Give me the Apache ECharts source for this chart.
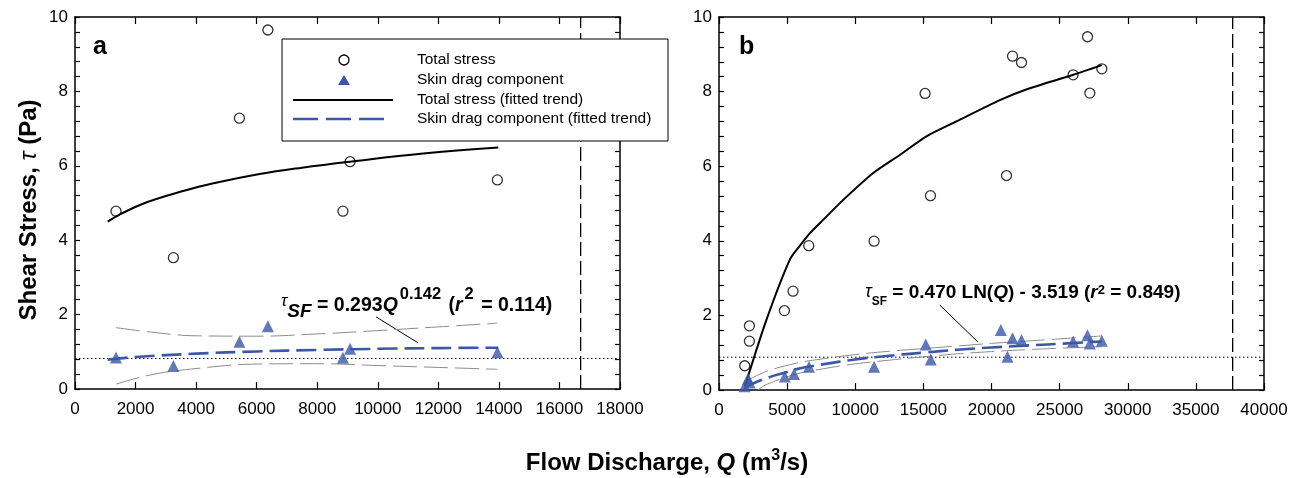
<!DOCTYPE html>
<html>
<head>
<meta charset="utf-8">
<script src="https://cdn.jsdelivr.net/npm/echarts@6/dist/echarts.min.js"></script>
<style>
  html, body { margin: 0; padding: 0; background: #fff; }
  #chart { width: 1305px; height: 478px; }
</style>
</head>
<body>
<div id="chart"></div>
<script>
// ---- Panel a : discharge (m3/s) and shear stress (Pa) ----
const qA      = [1354, 3250, 5430, 6370, 8850, 9085, 13950];
const totalA  = [4.78, 3.53, 7.28, 9.65, 4.78, 6.11, 5.62];
const skinA   = [0.85, 0.62, 1.27, 1.69, 0.84, 1.08, 0.99];

const totalFitQA = [1080, 1500, 2370, 3600, 4500, 6100, 7500, 9080, 11500, 13980];
const totalFitA  = [4.50, 4.70, 5.02, 5.33, 5.52, 5.78, 5.95, 6.11, 6.33, 6.49];
const skinFitQA  = [1080, 2000, 4000, 6000, 8000, 10000, 12000, 13980];
const skinFitA   = [0.79, 0.86, 0.95, 1.01, 1.05, 1.08, 1.10, 1.11];
const bandQA     = [1354, 2500, 4000, 6000, 8000, 10000, 12000, 13950];
const bandUpA    = [1.65, 1.53, 1.43, 1.42, 1.48, 1.57, 1.67, 1.77];
const bandLoA    = [0.13, 0.38, 0.55, 0.67, 0.68, 0.63, 0.58, 0.53];
const thresholdA = 0.82;     // dotted reference level
const limitQA    = 16700;    // dashed discharge limit

// ---- Panel b ----
const qTotalB   = [1887, 2232, 2232, 4802, 5433, 6586, 11380, 15125, 15521, 21101, 21542, 22203, 25991, 27048, 27217, 28098];
const totalB    = [0.65, 1.72, 1.31, 2.13, 2.65, 3.87, 3.99, 7.95, 5.21, 5.75, 8.95, 8.78, 8.45, 9.47, 7.96, 8.61];
const qSkinB    = [1880, 2130, 2250, 4824, 5507, 6608, 11380, 15176, 15543, 20683, 21175, 21542, 22203, 25991, 27048, 27217, 28098];
const skinB     = [0.10, 0.30, 0.20, 0.36, 0.43, 0.62, 0.62, 1.22, 0.82, 1.61, 0.89, 1.39, 1.34, 1.30, 1.47, 1.25, 1.32];

const totalFitQB = [1900, 3480, 5190, 5900, 6660, 7640, 9100, 11300, 13270, 15230, 17430, 20610, 22500, 26000, 28100];
const totalFitB  = [0.10, 1.88, 3.49, 3.85, 4.20, 4.56, 5.09, 5.81, 6.30, 6.80, 7.20, 7.77, 8.05, 8.45, 8.71];
const skinFitQB  = [1850, 2250, 3500, 5000, 5700, 7500, 10000, 12500, 15000, 17500, 20000, 22500, 25000, 28100];
const skinFitB   = [0.03, 0.13, 0.32, 0.48, 0.56, 0.68, 0.82, 0.92, 1.00, 1.08, 1.14, 1.19, 1.24, 1.30];
const bandQB     = [2000, 3500, 5700, 7500, 10000, 12500, 15000, 17500, 20000, 22500, 25000, 28100];
const bandUpB    = [0.24, 0.50, 0.72, 0.83, 0.95, 1.04, 1.11, 1.18, 1.25, 1.31, 1.37, 1.45];
const bandLoQB   = [2860, 3500, 5700, 7500, 10000, 12500, 15000, 17500, 20000, 22500, 25000, 28100];
const bandLoB    = [0.00, 0.15, 0.43, 0.56, 0.70, 0.80, 0.89, 0.97, 1.03, 1.08, 1.12, 1.16];
const thresholdB = 0.88;
const limitQB    = 37700;

// Leader lines from the equations to the fitted skin-drag curves (data units)
const leaderA = [[9940, 1.94], [11330, 1.24]];
const leaderB = [[16200, 2.28], [18990, 1.29]];

const xTicksA = { max: 18000, interval: 2000 };
const xTicksB = { max: 40000, interval: 5000 };

const legendLabels = ['Total stress', 'Skin drag component', 'Total stress (fitted trend)', 'Skin drag component (fitted trend)'];

const FONT = 'Liberation Sans, Arial, sans-serif';
const BLUE = '#3b57a7';
const GREY = '#8c8c8c';

const zip = (xs, ys) => xs.map((x, i) => [x, ys[i]]);

function xAxisPair(grid, ticks) {
  const base = {
    type: 'value', gridIndex: grid, min: 0, max: ticks.max, interval: ticks.interval,
    axisLine: { show: true, onZero: false, lineStyle: { color: '#000', width: 1.5 } },
    axisTick: { show: true, inside: true, length: 7, lineStyle: { color: '#000', width: 1.2 } },
    splitLine: { show: false }
  };
  return [
    Object.assign({}, base, {
      position: 'bottom',
      axisLabel: { show: true, color: '#000', fontSize: 17, fontFamily: FONT, margin: 12,
                   formatter: v => String(v) }
    }),
    Object.assign({}, base, { position: 'top', axisLabel: { show: false } })
  ];
}

function yAxisPair(grid) {
  const base = {
    type: 'value', gridIndex: grid, min: 0, max: 10, interval: 2,
    axisLine: { show: true, onZero: false, lineStyle: { color: '#000', width: 1.5 } },
    axisTick: { show: true, inside: true, length: 5, lineStyle: { color: '#000', width: 1.2 } },
    minorTick: { show: true, splitNumber: 5, length: 5, lineStyle: { color: '#000', width: 1.2 } },
    splitLine: { show: false },
    minorSplitLine: { show: false }
  };
  return [
    Object.assign({}, base, {
      position: 'left',
      axisLabel: { show: true, color: '#000', fontSize: 17, fontFamily: FONT, margin: 7,
                   formatter: v => String(v) }
    }),
    Object.assign({}, base, { position: 'right', axisLabel: { show: false } })
  ];
}

function panelSeries(p) {
  const ax = { xAxisIndex: p.x, yAxisIndex: p.y };
  const plain = (data, style) => Object.assign({
    type: 'line', data, symbol: 'none', silent: true, z: 2,
    lineStyle: style
  }, ax);
  return [
    plain([[0, p.threshold], [p.xmax, p.threshold]], { color: '#000', width: 1, type: [1.5, 2.5] }),
    plain([[p.limit, 0], [p.limit, 10]], { color: '#000', width: 1.3, type: [14, 5] }),
    plain(p.leader, { color: '#000', width: 1 }),
    Object.assign(plain(p.bandUp, { color: GREY, width: 1, type: [24, 7] }), { smooth: 0.4 }),
    Object.assign(plain(p.bandLo, { color: GREY, width: 1, type: [24, 7] }), { smooth: 0.4 }),
    Object.assign(plain(p.totalFit, { color: '#000', width: 2 }), {
      name: legendLabels[2], smooth: p.smoothTotal, z: 3
    }),
    Object.assign(plain(p.skinFit, { color: BLUE, width: 2.6, type: [20, 7] }), {
      name: legendLabels[3], smooth: 0.4, z: 3
    }),
    Object.assign({
      type: 'scatter', name: legendLabels[0], data: p.total, symbol: 'circle', symbolSize: 10, z: 4,
      itemStyle: { color: 'rgba(255,255,255,0)', borderColor: '#000', borderWidth: 1.3 }
    }, ax),
    Object.assign({
      type: 'scatter', name: legendLabels[1], data: p.skin, symbol: 'triangle', symbolSize: 12, z: 5,
      itemStyle: { color: BLUE, borderWidth: 0 }
    }, ax)
  ];
}

const series = [].concat(
  panelSeries({
    x: 0, y: 0, xmax: xTicksA.max, threshold: thresholdA, limit: limitQA, leader: leaderA,
    bandUp: zip(bandQA, bandUpA), bandLo: zip(bandQA, bandLoA),
    totalFit: zip(totalFitQA, totalFitA), skinFit: zip(skinFitQA, skinFitA), smoothTotal: 0.4,
    total: zip(qA, totalA), skin: zip(qA, skinA)
  }),
  panelSeries({
    x: 2, y: 2, xmax: xTicksB.max, threshold: thresholdB, limit: limitQB, leader: leaderB,
    bandUp: zip(bandQB, bandUpB), bandLo: zip(bandLoQB, bandLoB),
    totalFit: zip(totalFitQB, totalFitB), skinFit: zip(skinFitQB, skinFitB), smoothTotal: 0.25,
    total: zip(qTotalB, totalB), skin: zip(qSkinB, skinB)
  })
);

const bold = (size, extra) => Object.assign({
  fontSize: size, fontWeight: 'bold', fontFamily: FONT, fill: '#000', verticalAlign: 'middle'
}, extra || {});

// Legend box: symbol column on the left, labels on the right; drawn over the plot
const legendRows = [60, 80, 100, 119];
const LZ = 50;
const SYM_X = 344;
const legendItems = [
  { type: 'rect', z: LZ, shape: { x: 282, y: 39, width: 386, height: 102 },
    style: { fill: '#fff', stroke: '#000', lineWidth: 1 } },
  { type: 'circle', z: LZ + 1, shape: { cx: SYM_X, cy: legendRows[0], r: 5 },
    style: { fill: 'rgba(255,255,255,0)', stroke: '#000', lineWidth: 1.3 } },
  { type: 'polygon', z: LZ + 1,
    shape: { points: [[SYM_X, legendRows[1] - 5], [SYM_X + 6, legendRows[1] + 5], [SYM_X - 6, legendRows[1] + 5]] },
    style: { fill: BLUE } },
  { type: 'line', z: LZ + 1, shape: { x1: 293, y1: legendRows[2], x2: 393, y2: legendRows[2] },
    style: { stroke: '#000', lineWidth: 2 } },
  { type: 'line', z: LZ + 1, shape: { x1: 293, y1: legendRows[3], x2: 384, y2: legendRows[3] },
    style: { stroke: BLUE, lineWidth: 2.6, lineDash: [25, 8] } }
].concat(legendLabels.map((t, i) => ({
  type: 'text', z: LZ + 1, x: 417, y: legendRows[i],
  style: { text: t, font: '15.5px ' + FONT, fill: '#000', verticalAlign: 'middle' }
})));

const graphic = legendItems.concat([
  // panel letters
  { type: 'text', x: 93, y: 47, z: 60,
    style: { text: 'a', font: 'bold 25px ' + FONT, fill: '#000', verticalAlign: 'middle' } },
  { type: 'text', x: 739, y: 47, z: 60,
    style: { text: 'b', font: 'bold 25px ' + FONT, fill: '#000', verticalAlign: 'middle' } },
  // fitted equation, panel a
  { type: 'text', x: 281, y: 306, z: 60,
    style: {
      text: '{t|τ}{sf|SF}{b| = 0.293}{bi|Q}{sup|0.142}{b| (}{bi|r}{sup|2}{b| = 0.114)}',
      verticalAlign: 'middle',
      rich: {
        t: { fontSize: 17, fontStyle: 'italic', fontFamily: FONT, fill: '#000', verticalAlign: 'middle', padding: [0, 0, 10, 0] },
        sf: bold(19, { fontStyle: 'italic', padding: [11, 0, 0, 0] }),
        b: bold(19.5),
        bi: bold(19.5, { fontStyle: 'italic' }),
        sup: bold(16.5, { padding: [0, 2, 23, 2] })
      }
    } },
  // fitted equation, panel b
  { type: 'text', x: 865, y: 293, z: 60,
    style: {
      text: '{t|τ}{sub|SF}{b| = 0.470 LN(}{bi|Q}{b|) - 3.519 (}{bi|r}{sup|2}{b| = 0.849)}',
      verticalAlign: 'middle',
      rich: {
        t: { fontSize: 18, fontStyle: 'italic', fontFamily: FONT, fill: '#000', verticalAlign: 'middle', padding: [0, 0, 2, 0] },
        sub: bold(12, { padding: [17, 0, 0, 0] }),
        b: bold(19),
        bi: bold(19, { fontStyle: 'italic' }),
        sup: bold(13, { padding: [0, 0, 6, 0] })
      }
    } },
  // y axis title
  { type: 'text', x: 29, y: 210, rotation: Math.PI / 2, z: 60,
    style: {
      text: '{b|Shear Stress, }{t|τ}{b| (Pa)}',
      align: 'center', verticalAlign: 'middle',
      rich: {
        b: bold(24),
        t: { fontSize: 24, fontStyle: 'italic', fontFamily: FONT, fill: '#000', verticalAlign: 'middle' }
      }
    } },
  // x axis title
  { type: 'text', x: 667, y: 463, z: 60,
    style: {
      text: '{b|Flow Discharge, }{bi|Q}{b| (m}{sup|3}{b|/s)}',
      align: 'center', verticalAlign: 'middle',
      rich: {
        b: bold(24),
        bi: bold(24, { fontStyle: 'italic' }),
        sup: bold(16, { padding: [0, 0, 14, 0] })
      }
    } }
]);

const chart = echarts.init(document.getElementById('chart'), null, { renderer: 'canvas' });
chart.setOption({
  animation: false,
  backgroundColor: '#fff',
  grid: [
    { left: 75, top: 17, width: 545, height: 372, outerBoundsMode: 'none' },
    { left: 719, top: 17, width: 545, height: 373, outerBoundsMode: 'none' }
  ],
  xAxis: [].concat(xAxisPair(0, xTicksA), xAxisPair(1, xTicksB)),
  yAxis: [].concat(yAxisPair(0), yAxisPair(1)),
  legend: { show: false },
  graphic: graphic,
  series: series
});
</script>
</body>
</html>
